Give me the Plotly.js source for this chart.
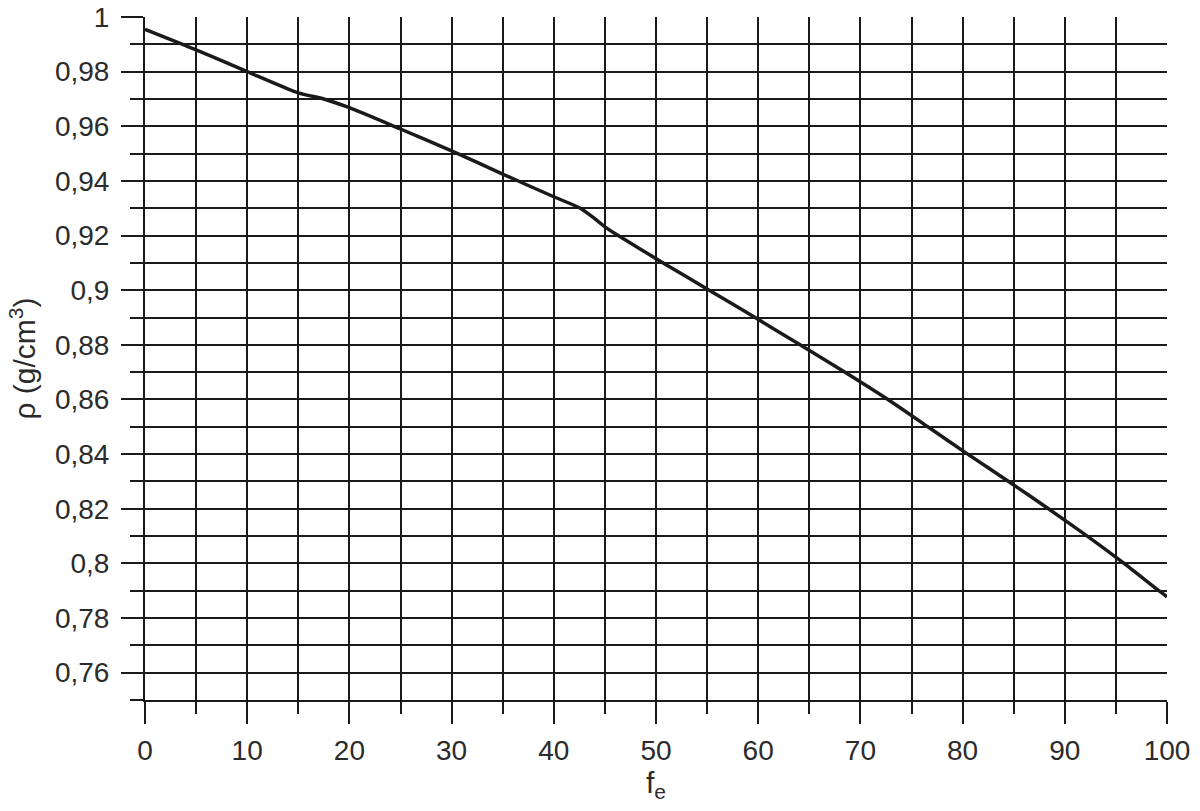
<!DOCTYPE html>
<html>
<head>
<meta charset="utf-8">
<script src="https://cdn.plot.ly/plotly-3.0.1.min.js"></script>
<style>
  html, body { margin: 0; padding: 0; background: #fff; }
  #chart { width: 1200px; height: 811px; }
</style>
</head>
<body>
<div id="chart"></div>
<script>
// curve: f_e vs density (grid crossings mostly)
const fe = [0, 5, 10, 15, 17.5, 20, 25, 30, 35, 40, 42.6, 44, 45, 46.3, 50.7, 55.2, 59.7, 64.1,
  68.5, 72.7, 76.6, 80.5, 84.5, 88.4, 92.2, 95.8, 99.2, 100];
const rho = [0.9955, 0.988, 0.980, 0.9722, 0.970, 0.9668, 0.959, 0.951, 0.9425, 0.9342, 0.930, 0.9262, 0.9232, 0.920,
  0.910, 0.900, 0.890, 0.880, 0.870, 0.860, 0.850, 0.840, 0.830, 0.820, 0.810, 0.800, 0.790, 0.7878];

const xRange = [0, 100];
const yRange = [0.75, 1];
const xTickVals = [0, 10, 20, 30, 40, 50, 60, 70, 80, 90, 100];
const xTickText = ["0", "10", "20", "30", "40", "50", "60", "70", "80", "90", "100"];
const yTickVals = [0.76, 0.78, 0.8, 0.82, 0.84, 0.86, 0.88, 0.9, 0.92, 0.94, 0.96, 0.98, 1];
const yTickText = ["0,76", "0,78", "0,8", "0,82", "0,84", "0,86", "0,88", "0,9", "0,92", "0,94", "0,96", "0,98", "1"];

const font = { family: "Liberation Sans, Arial, sans-serif", size: 28, color: "#2b2b2b" };
const gridColor = "#1a1a1a";

const trace = {
  x: fe,
  y: rho,
  mode: "lines",
  line: { color: "#1a1a1a", width: 3.5, shape: "spline", smoothing: 0.6 },
  hoverinfo: "skip",
};

function axisBase() {
  return {
    tickmode: "array",
    ticks: "outside",
    ticklen: 22,
    tickwidth: 2,
    tickcolor: gridColor,
    showgrid: true,
    gridcolor: gridColor,
    gridwidth: 2,
    zeroline: false,
    showline: true,
    linecolor: gridColor,
    linewidth: 2,
  };
}

const layout = {
  width: 1200,
  height: 811,
  margin: { l: 145, r: 33, t: 17, b: 111 },
  paper_bgcolor: "#fff",
  plot_bgcolor: "#fff",
  showlegend: false,
  font: font,
  xaxis: {
    ...axisBase(),
    range: xRange,
    tickvals: xTickVals,
    ticktext: xTickText,
    ticklabelstandoff: 2,
    minor: { dtick: 5, ticks: "outside", ticklen: 12, tickwidth: 2, tickcolor: gridColor, showgrid: true, gridcolor: gridColor, gridwidth: 2 },
    title: { text: "f<sub>e</sub>", font: { size: 30, color: "#2b2b2b" }, standoff: 6 },
  },
  yaxis: {
    ...axisBase(),
    range: yRange,
    tickvals: yTickVals,
    ticktext: yTickText,
    ticklabelstandoff: 6,
    minor: { dtick: 0.01, tick0: 0.75, ticks: "outside", ticklen: 13, tickwidth: 2, tickcolor: gridColor, showgrid: true, gridcolor: gridColor, gridwidth: 2 },
    title: { text: "ρ (g/cm<sup>3</sup>)", font: { size: 30, color: "#2b2b2b" }, standoff: 10 },
  },
};

Plotly.newPlot("chart", [trace], layout, { displayModeBar: false, staticPlot: true });
</script>
</body>
</html>
